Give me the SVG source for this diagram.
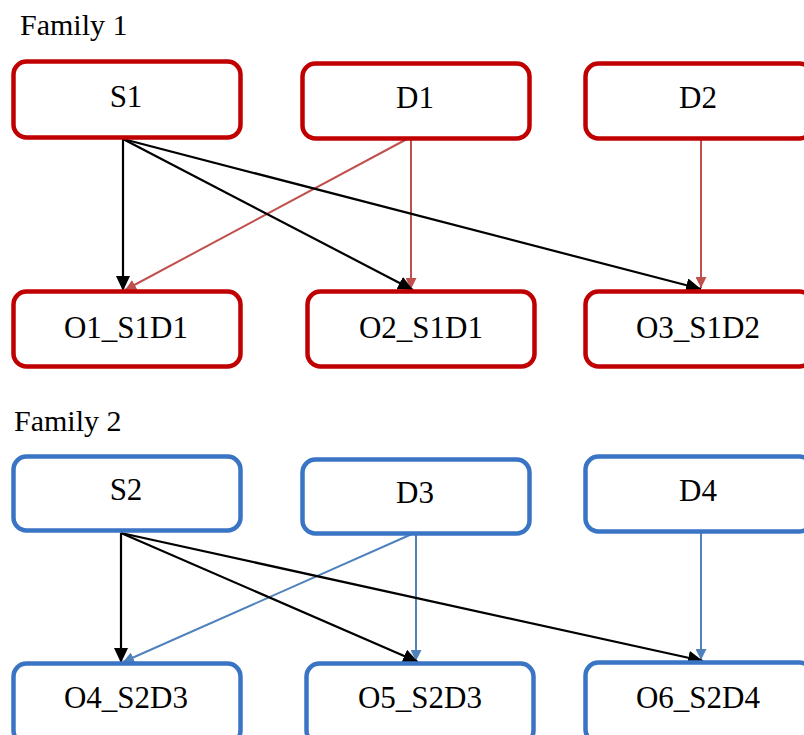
<svg xmlns="http://www.w3.org/2000/svg" width="804" height="735" viewBox="0 0 804 735">
<defs>
<style>
text{font-family:'Liberation Serif','DejaVu Serif',serif;font-size:31px;fill:#000}
.lbl{text-anchor:middle}
.red rect{fill:#fff;stroke:#C00000;stroke-width:4.5}
.blue rect{fill:#fff;stroke:#3A75C5;stroke-width:4.5}
.blk{stroke:#000;stroke-width:2.2;fill:none}
.rl{stroke:#C0504D;stroke-width:2;fill:none}
.bl{stroke:#4F81BD;stroke-width:2;fill:none}
</style>
<marker id="ab" markerUnits="userSpaceOnUse" markerWidth="16" markerHeight="14" refX="15" refY="7" orient="auto"><path d="M0,0 L15,7 L0,14 z" fill="#000"/></marker>
<marker id="ar" markerUnits="userSpaceOnUse" markerWidth="12" markerHeight="11" refX="11" refY="5.5" orient="auto"><path d="M0,0 L11,5.5 L0,11 z" fill="#C0504D"/></marker>
<marker id="abl" markerUnits="userSpaceOnUse" markerWidth="12" markerHeight="11" refX="11" refY="5.5" orient="auto"><path d="M0,0 L11,5.5 L0,11 z" fill="#4F81BD"/></marker>
</defs>
<rect width="804" height="735" fill="#fff"/>
<text x="20" y="35" style="font-size:30px">Family 1</text>
<text x="14" y="431" style="font-size:30px">Family 2</text>

<g id="connectors">
<line class="rl" x1="407" y1="139" x2="125" y2="290" marker-end="url(#ar)"/>
<line class="rl" x1="411" y1="139" x2="411" y2="289" marker-end="url(#ar)"/>
<line class="rl" x1="701" y1="139" x2="701" y2="288" marker-end="url(#ar)"/>
<line class="blk" x1="123" y1="139" x2="123" y2="291" marker-end="url(#ab)"/>
<line class="blk" x1="123" y1="139" x2="413" y2="290" marker-end="url(#ab)"/>
<line class="blk" x1="123" y1="139" x2="701" y2="289" marker-end="url(#ab)"/>

<line class="bl" x1="412" y1="534" x2="123" y2="662" marker-end="url(#abl)"/>
<line class="bl" x1="416" y1="534" x2="416" y2="661" marker-end="url(#abl)"/>
<line class="bl" x1="701" y1="532" x2="701" y2="660" marker-end="url(#abl)"/>
<line class="blk" x1="121" y1="533" x2="121" y2="663" marker-end="url(#ab)"/>
<line class="blk" x1="121" y1="533" x2="418" y2="662" marker-end="url(#ab)"/>
<line class="blk" x1="121" y1="533" x2="703" y2="661" marker-end="url(#ab)"/>
</g>

<g id="S1" class="red"><rect x="13.5" y="61.5" width="227" height="76" rx="13"/><text class="lbl" x="126" y="107">S1</text></g>
<g id="D1" class="red"><rect x="302.5" y="63.5" width="227" height="75" rx="13"/><text class="lbl" x="415" y="108">D1</text></g>
<g id="D2" class="red"><rect x="585.5" y="63.5" width="227" height="75" rx="13"/><text class="lbl" x="698" y="108">D2</text></g>
<g id="O1_S1D1" class="red"><rect x="13.5" y="291.5" width="227" height="75" rx="13"/><text class="lbl" x="126" y="338">O1_S1D1</text></g>
<g id="O2_S1D1" class="red"><rect x="307.5" y="291.5" width="227" height="75" rx="13"/><text class="lbl" x="421" y="338">O2_S1D1</text></g>
<g id="O3_S1D2" class="red"><rect x="585.5" y="291.5" width="227" height="75" rx="13"/><text class="lbl" x="698" y="338">O3_S1D2</text></g>

<g id="S2" class="blue"><rect x="13.5" y="456.5" width="227" height="74" rx="13"/><text class="lbl" x="126" y="500">S2</text></g>
<g id="D3" class="blue"><rect x="302.5" y="459.5" width="227" height="74" rx="13"/><text class="lbl" x="415" y="503">D3</text></g>
<g id="D4" class="blue"><rect x="585.5" y="456.5" width="227" height="75" rx="13"/><text class="lbl" x="698" y="501">D4</text></g>
<g id="O4_S2D3" class="blue"><rect x="13.5" y="663.5" width="227" height="80" rx="13"/><text class="lbl" x="126" y="708">O4_S2D3</text></g>
<g id="O5_S2D3" class="blue"><rect x="306.5" y="663.5" width="227" height="80" rx="13"/><text class="lbl" x="420" y="708">O5_S2D3</text></g>
<g id="O6_S2D4" class="blue"><rect x="585.5" y="662.5" width="227" height="80" rx="13"/><text class="lbl" x="698" y="708">O6_S2D4</text></g>
</svg>
